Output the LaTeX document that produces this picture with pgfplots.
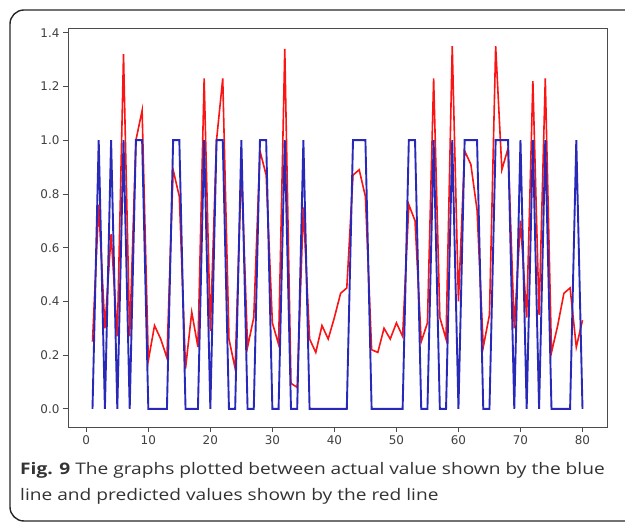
\documentclass[border=0pt]{standalone}
\usepackage{fontspec}
\setmainfont{Open Sans}
\newfontfamily\capfont[FakeStretch=1.2]{Open Sans}
\newfontfamily\tickfont{DejaVu Sans}
\usepackage{pgfplots}
\pgfplotsset{compat=1.18}

\definecolor{actualblue}{RGB}{40,40,185}
\definecolor{predred}{RGB}{250,20,20}

\pgfplotstableread{
x  pred  actual
1  0.25  0
2  0.76  1
3  0.30  0
4  0.65  1
5  0.27  0
6  1.32  1
7  0.27  0
8  1.00  1
9  1.11  1
10 0.18  0
11 0.31  0
12 0.26  0
13 0.19  0
14 0.89  1
15 0.79  1
16 0.15  0
17 0.36  0
18 0.23  0
19 1.23  1
20 0.29  0
21 1.00  1
22 1.23  1
23 0.26  0
24 0.15  0
25 0.90  1
26 0.23  0
27 0.34  0
28 0.96  1
29 0.87  1
30 0.32  0
31 0.24  0
32 1.34  1
33 0.095 0
34 0.08  0
35 0.75  1
36 0.26  0
37 0.21  0
38 0.31  0
39 0.26  0
40 0.34  0
41 0.43  0
42 0.45  0
43 0.87  1
44 0.89  1
45 0.79  1
46 0.22  0
47 0.21  0
48 0.30  0
49 0.26  0
50 0.32  0
51 0.27  0
52 0.76  1
53 0.70  1
54 0.25  0
55 0.32  0
56 1.23  1
57 0.34  0
58 0.26  0
59 1.35  1
60 0.40  0
61 0.96  1
62 0.91  1
63 0.74  1
64 0.23  0
65 0.35  0
66 1.35  1
67 0.89  1
68 0.97  1
69 0.30  0
70 0.70  1
71 0.34  0
72 1.22  1
73 0.35  0
74 1.23  1
75 0.21  0
76 0.31  0
77 0.43  0
78 0.45  0
79 0.23  1
80 0.33  0
}\results

\begin{document}
\begin{tikzpicture}
\useasboundingbox (0bp,0bp) rectangle (625bp,523bp);
% figure frame, runs off the right edge
\begin{scope}
\clip (0bp,0bp) rectangle (625bp,523bp);
\draw[line width=1.4bp, black!85, rounded corners=14bp] (10bp,2bp) rectangle (660bp,513bp);
\end{scope}

\begin{axis}[
  at={(68bp,96bp)}, anchor=south west,
  width=539bp, height=399bp, scale only axis,
  xmin=-2.95, xmax=83.95, ymin=-0.0675, ymax=1.4175,
  xtick={0,10,...,80},
  ytick={0,0.2,0.4,0.6,0.8,1.0,1.2,1.4},
  yticklabel style={/pgf/number format/.cd, fixed, fixed zerofill, precision=1},
  /pgf/number format/assume math mode=true,
  tick label style={font=\tickfont\fontsize{12}{13}\selectfont, text=black!75},
  tick align=outside, tick pos=left,
  major tick length=5bp,
  every tick/.style={black!70, line width=0.8bp},
  axis line style={black!70, line width=0.8bp},
  clip=false,
]
\addplot[predred, line width=1.6bp, no markers] table[x=x, y=pred] {\results};
\addplot[actualblue, line width=1.9bp, no markers] table[x=x, y=actual] {\results};
\end{axis}

\node[anchor=base west, inner sep=0pt, text=black!80, font=\capfont\fontsize{16}{20}\selectfont]
  at (20bp,48bp) {\textbf{Fig. 9} The graphs plotted between actual value shown by the blue};
\node[anchor=base west, inner sep=0pt, text=black!80, font=\capfont\fontsize{16}{20}\selectfont]
  at (20bp,23bp) {line and predicted values shown by the red line};
\end{tikzpicture}
\end{document}
